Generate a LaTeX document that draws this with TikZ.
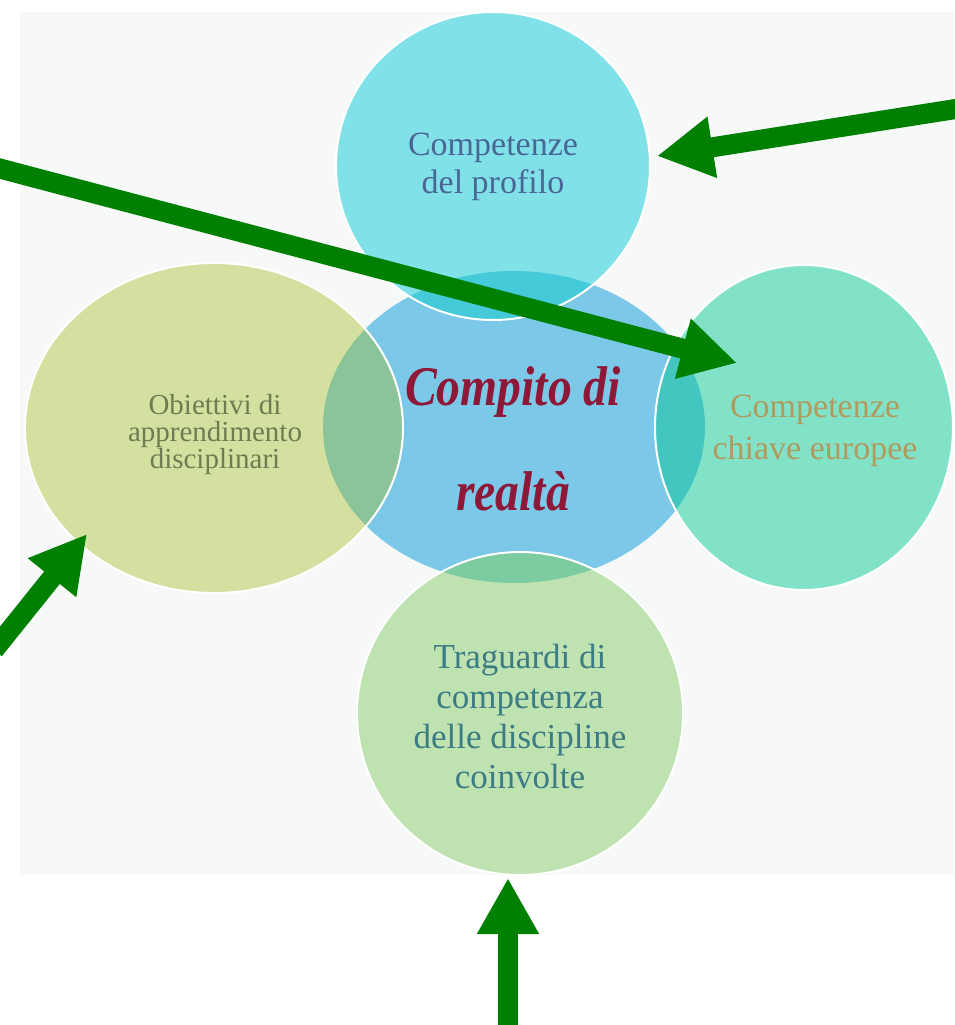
\documentclass[tikz,border=0pt]{standalone}
\usepackage{fontspec}
\setmainfont{Liberation Serif}
\usetikzlibrary{arrows.meta}
\definecolor{panelc}{HTML}{F7F8F8}
\definecolor{topc}{HTML}{80E2E8}
\definecolor{centc}{HTML}{7CC8E8}
\definecolor{leftc}{HTML}{D3E0A0}
\definecolor{rightc}{HTML}{82E2C8}
\definecolor{botc}{HTML}{BEE2B0}
\definecolor{ovtop}{HTML}{44CAD8}
\definecolor{ovleft}{HTML}{8CC49A}
\definecolor{ovright}{HTML}{44C6C0}
\definecolor{ovbot}{HTML}{7CCCA2}
\definecolor{toptext}{HTML}{4A6696}
\definecolor{lefttext}{HTML}{6E7C52}
\definecolor{righttext}{HTML}{B09A5E}
\definecolor{bottext}{HTML}{3C7C84}
\definecolor{centtext}{HTML}{8E1838}
\definecolor{arrowgreen}{HTML}{008000}
\begin{document}
\begin{tikzpicture}[x=1pt,y=-1pt,
  garrow/.style={draw=arrowgreen, line width=20pt, -{Triangle[length=56pt,width=58pt]}},
  txt/.style={align=center, inner sep=0pt},
  rim/.style={draw=white, line width=2pt}]
\useasboundingbox (0,0) rectangle (954,1025);
\fill[white] (0,0) rectangle (954,1025);
\fill[panelc] (20,12) rectangle (954,875);
\begin{scope}
  \clip (20,12) rectangle (954,875);
  % central shape
  \fill[centc] (514,427) ellipse [x radius=191, y radius=156];
  % outer circles
  \fill[topc] (493,166) ellipse [x radius=157, y radius=154];
  \fill[leftc] (214,428) ellipse [x radius=189, y radius=165];
  \fill[rightc] (804,427.5) ellipse [x radius=149, y radius=162.5];
  \fill[botc] (520,713.5) ellipse [x radius=163, y radius=161.5];
  % overlaps
  \begin{scope}
    \clip (514,427) ellipse [x radius=191, y radius=156];
    \fill[ovtop] (493,166) ellipse [x radius=157, y radius=154];
    \fill[ovleft] (214,428) ellipse [x radius=189, y radius=165];
    \fill[ovright] (804,427.5) ellipse [x radius=149, y radius=162.5];
    \fill[ovbot] (520,713.5) ellipse [x radius=163, y radius=161.5];
  \end{scope}
  % white rims
  \draw[rim] (493,166) ellipse [x radius=157, y radius=154];
  \draw[rim] (214,428) ellipse [x radius=189, y radius=165];
  \draw[rim] (804,427.5) ellipse [x radius=149, y radius=162.5];
  \draw[rim] (520,713.5) ellipse [x radius=163, y radius=161.5];
\end{scope}
% texts
\node[txt, text=toptext, font=\fontsize{34}{38}\selectfont] (top) at (493,167) {Competenze\\del profilo};
\node[txt, text=lefttext, font=\fontsize{29}{27}\selectfont] (left) at (215,435) {Obiettivi di\\apprendimento\\disciplinari};
\node[txt, text=righttext, font=\fontsize{34}{42}\selectfont] (right) at (815,431) {Competenze\\chiave europee};
\node[txt, text=bottext, font=\fontsize{35}{40}\selectfont] (bottom) at (520,717) {Traguardi di\\competenza\\delle discipline\\coinvolte};
\node[txt, text=centtext, font=\fontsize{56}{105}\selectfont\bfseries\itshape] (center) at (513,438.5) {\scalebox{0.85}[1]{Compito di}\\\scalebox{0.85}[1]{realtà}};
% arrows
\coordinate (a1s) at (962,108);
\coordinate (a1t) at (657,156);
\coordinate (a2s) at (-6,167);
\coordinate (a2t) at (737,363);
\coordinate (a3s) at (-6,650);
\coordinate (a3t) at (87,534);
\coordinate (a4s) at (508,1030);
\coordinate (a4t) at (508,878);
\draw[garrow] (a1s) -- (a1t);
\draw[garrow] (a2s) -- (a2t);
\draw[garrow] (a3s) -- (a3t);
\draw[garrow] (a4s) -- (a4t);
\end{tikzpicture}
\end{document}
